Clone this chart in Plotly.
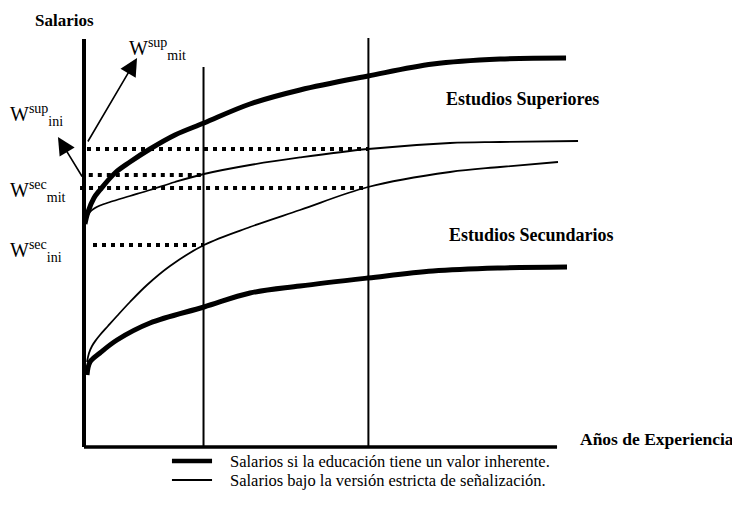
import plotly.graph_objects as go

# ---------------- data (years of experience, salary level) ----------------
# Estudios Superiores - salarios si la educación tiene un valor inherente (thick)
sup_inh_x = [0.08, 0.33, 0.83, 1.33, 2.58, 3.83, 5.5, 7.58, 10, 13.83, 18, 23.67, 29.08, 34.67, 40.17]
sup_inh_y = [55.75, 58.75, 62.25, 64.25, 68.5, 71.25, 74.5, 78, 81, 85.75, 89.25, 92.75, 95.75, 97, 97.25]
# Estudios Superiores - señalización estricta (thin)
sup_sig_x = [0.25, 0.5, 0.92, 1.33, 2.17, 3.83, 5.5, 7.58, 10, 13.83, 18, 23.67, 30.5, 34.67, 41.17]
sup_sig_y = [57.25, 58.75, 59.75, 60.38, 61.25, 62.75, 64.25, 66.25, 68.25, 70.5, 72.38, 74.5, 76, 76.25, 76.5]
# Estudios Secundarios - señalización estricta (thin)
sec_sig_x = [0.25, 0.42, 0.67, 1.0, 1.33, 2.0, 2.75, 3.83, 5.25, 7.17, 10, 13.83, 18, 23.67, 30.5, 34.67, 39.5]
sec_sig_y = [21.25, 23.5, 25.25, 26.75, 28, 30.25, 32.75, 36.25, 40.5, 45.25, 50.5, 55, 59.25, 65, 68.75, 70, 71.25]
# Estudios Secundarios - valor inherente (thick)
sec_inh_x = [0.25, 0.5, 1.33, 2.75, 5.5, 10, 13.83, 18, 23.67, 29.08, 34.67, 40.25]
sec_inh_y = [18, 21.25, 23.5, 26.75, 31, 35, 38.5, 40.25, 42.25, 44, 44.75, 45]

# reference experience years (vertical lines)
t_ini = 9.96
t_mit = 23.7
# wage levels marked with dotted lines
w_sup_mit = 74.5
w_sup_ini = 68
w_sec_mit = 64.75
w_sec_ini = 50.5

legend_labels = ["Salarios si la educación tiene un valor inherente.",
                 "Salarios bajo la versión estricta de señalización."]

BLACK = "#000000"
SERIF = "Liberation Serif, Times New Roman, serif"

fig = go.Figure()


def line(x, y, w, dash=None, shape="linear"):
    fig.add_trace(go.Scatter(x=x, y=y, mode="lines",
                             line=dict(color=BLACK, width=w, dash=dash, shape=shape),
                             hoverinfo="skip", showlegend=False))


# axes
line([0, 0], [102, 0], 4)
line([0, 39.42], [0, 0], 3.5)
# vertical reference lines
line([t_ini, t_ini], [0, 95], 2)
line([t_mit, t_mit], [0, 102.25], 2)

# dotted levels
line([0.25, t_mit], [w_sup_mit, w_sup_mit], 4, dash="4px,5px")
line([0.4, t_ini], [w_sup_ini, w_sup_ini], 4, dash="4px,5px")
line([-0.33, t_mit], [w_sec_mit, w_sec_mit], 4, dash="4px,5px")
line([0.75, t_ini], [w_sec_ini, w_sec_ini], 4, dash="4px,5px")

# curves
line(sup_inh_x, sup_inh_y, 5, shape="spline")
line(sup_sig_x, sup_sig_y, 1.8, shape="spline")
line(sec_sig_x, sec_sig_y, 1.8, shape="spline")
line(sec_inh_x, sec_inh_y, 5, shape="spline")

# legend samples
line([7.33, 10.67], [-3.5, -3.5], 4.5)
line([7.33, 10.67], [-8.25, -8.25], 2)

ann = []


def txt(x, y, s, size, bold=False, xanchor="left"):
    ann.append(dict(x=x, y=y, xref="x", yref="y", text=(f"<b>{s}</b>" if bold else s),
                    showarrow=False, xanchor=xanchor, yanchor="middle",
                    font=dict(family=SERIF, size=size, color=BLACK)))


txt(-4.25, 106.75, "Salarios", 17, bold=True)
txt(3.6, 99.5, "W<sup>sup</sup><sub>mit</sub>", 20)
txt(-6.3, 83, "W<sup>sup</sup><sub>ini</sub>", 20)
txt(-6.3, 64, "W<sup>sec</sup><sub>mit</sub>", 20)
txt(-6.3, 49, "W<sup>sec</sup><sub>ini</sub>", 20)
txt(36.58, 87, "Estudios Superiores", 18, bold=True, xanchor="center")
txt(37.25, 53, "Estudios Secundarios", 18, bold=True, xanchor="center")
txt(41.2, 2, "Años de Experiencia", 17.5, bold=True)
txt(12, -3.5, legend_labels[0], 16.5)
txt(12, -8.25, legend_labels[1], 16.5)

# arrows
for (tx, ty, hx, hy) in [(0.25, 76, 4.42, 97.25), (-0.08, 67.25, -2.17, 77.5)]:
    ann.append(dict(x=hx, y=hy, ax=tx, ay=ty, xref="x", yref="y", axref="x", ayref="y",
                    text="", showarrow=True, arrowhead=2, arrowsize=2.2, arrowwidth=1.6,
                    arrowcolor=BLACK, standoff=0, startstandoff=0))

# the page body has an 8px margin, so the figure is 8px smaller and ranges compensate
fig.update_layout(
    width=732, height=504,
    margin=dict(l=0, r=0, t=0, b=0),
    paper_bgcolor="white", plot_bgcolor="white",
    xaxis=dict(range=[-6.3333, 54.6667], visible=False, fixedrange=True),
    yaxis=dict(range=[-16.25, 109.75], visible=False, fixedrange=True),
    annotations=ann,
    hovermode=False,
    showlegend=False,
)

fig.write_html("out.html", config={"displayModeBar": False})
